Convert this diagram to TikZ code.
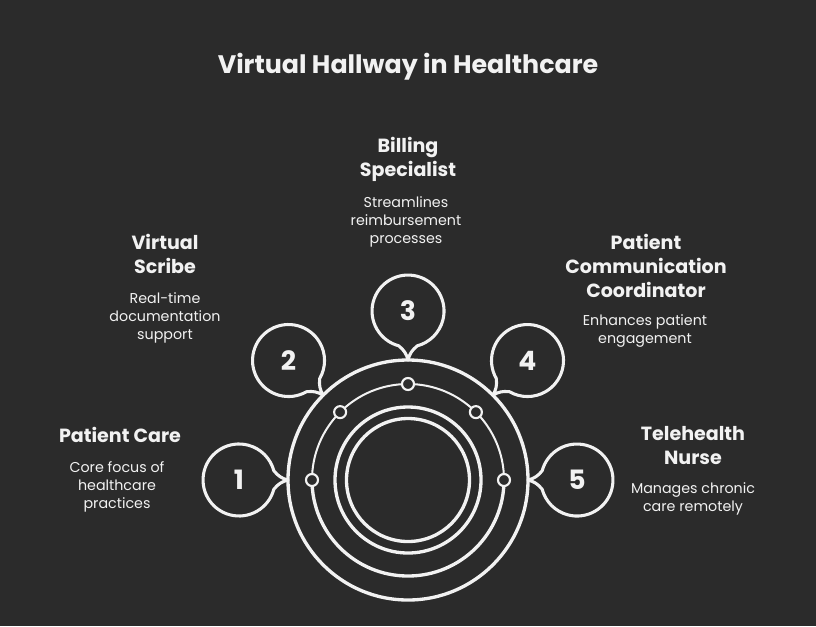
\documentclass[tikz,border=0pt]{standalone}
\usepackage{fontspec}
\usetikzlibrary{calc}
\setmainfont{Poppins}
\definecolor{bg}{HTML}{2B2B2B}
\definecolor{ink}{HTML}{F2F2F2}
\begin{document}
\begin{tikzpicture}[x=0.75pt,y=-0.75pt,
  every node/.style={text=ink, align=center},
  titletext/.style={font=\bfseries\fontsize{19}{22}\selectfont},
  headtext/.style={font=\bfseries\fontsize{14.3}{18}\selectfont},
  desctext/.style={font=\fontsize{10.7}{13.5}\selectfont},
  numtext/.style={font=\bfseries\fontsize{20}{22}\selectfont, circle, minimum size=54pt, inner sep=0pt},
  ringline/.style={draw=ink, line width=2.5pt},
  thinline/.style={draw=ink, line width=1.5pt},
  bubbleline/.style={draw=ink, line width=2.3pt, line join=round, line cap=round},
  dotnode/.style={circle, draw=ink, fill=bg, line width=1.6pt, minimum size=9pt, inner sep=0pt},
  ringnode/.style={circle, ringline, inner sep=0pt}
]
\fill[bg] (0,0) rectangle (816,626);
\useasboundingbox (0,0) rectangle (816,626);

\coordinate (c) at (408,480);

% title
\node[titletext] (title) at (408,67) {Virtual Hallway in Healthcare};

% rings
\node[ringnode, minimum size=180pt] (outer) at (c) {};
\node[ringnode, minimum size=109.5pt] (mid) at (c) {};
\node[ringnode, minimum size=92.25pt] (inner) at (c) {};
\draw[thinline] (c) ++(180:96) arc[start angle=180, end angle=360, radius=96];
\draw[ringline] (c) ++(0:96) arc[start angle=0, end angle=180, radius=96];

% bubbles
\foreach \a/\n in {180/1,225/2,270/3,315/4,0/5}{
  \begin{scope}[shift={(c)}, rotate=-\a]
    \draw[bubbleline] (134.2,-9.3) arc[start angle=195, end angle=525, radius=36]
      .. controls (130,4) and (126,1.5) .. (120,0)
      .. controls (126,-1.5) and (130,-4) .. cycle;
  \end{scope}
  \node[numtext] (n\n) at ($(c)+(\a:169)$) {\n};
  \node[dotnode] (d\n) at ($(c)+(\a:96)$) {};
}

% labels
\node[headtext] (h3) at (408,159) {Billing\\Specialist};
\node[desctext] (t3) at (406,222) {Streamlines\\reimbursement\\processes};

\node[headtext] (h2) at (165,254) {Virtual\\Scribe};
\node[desctext] (t2) at (165,318) {Real-time\\documentation\\support};

\node[headtext] (h1) at (120,435) {Patient Care};
\node[desctext] (t1) at (117,487) {Core focus of\\healthcare\\practices};

\node[headtext] (h4) at (646,266) {Patient\\Communication\\Coordinator};
\node[desctext] (t4) at (645,331) {Enhances patient\\engagement};

\node[headtext] (h5) at (693,446) {Telehealth\\Nurse};
\node[desctext] (t5) at (693,499) {Manages chronic\\care remotely};
\end{tikzpicture}
\end{document}
